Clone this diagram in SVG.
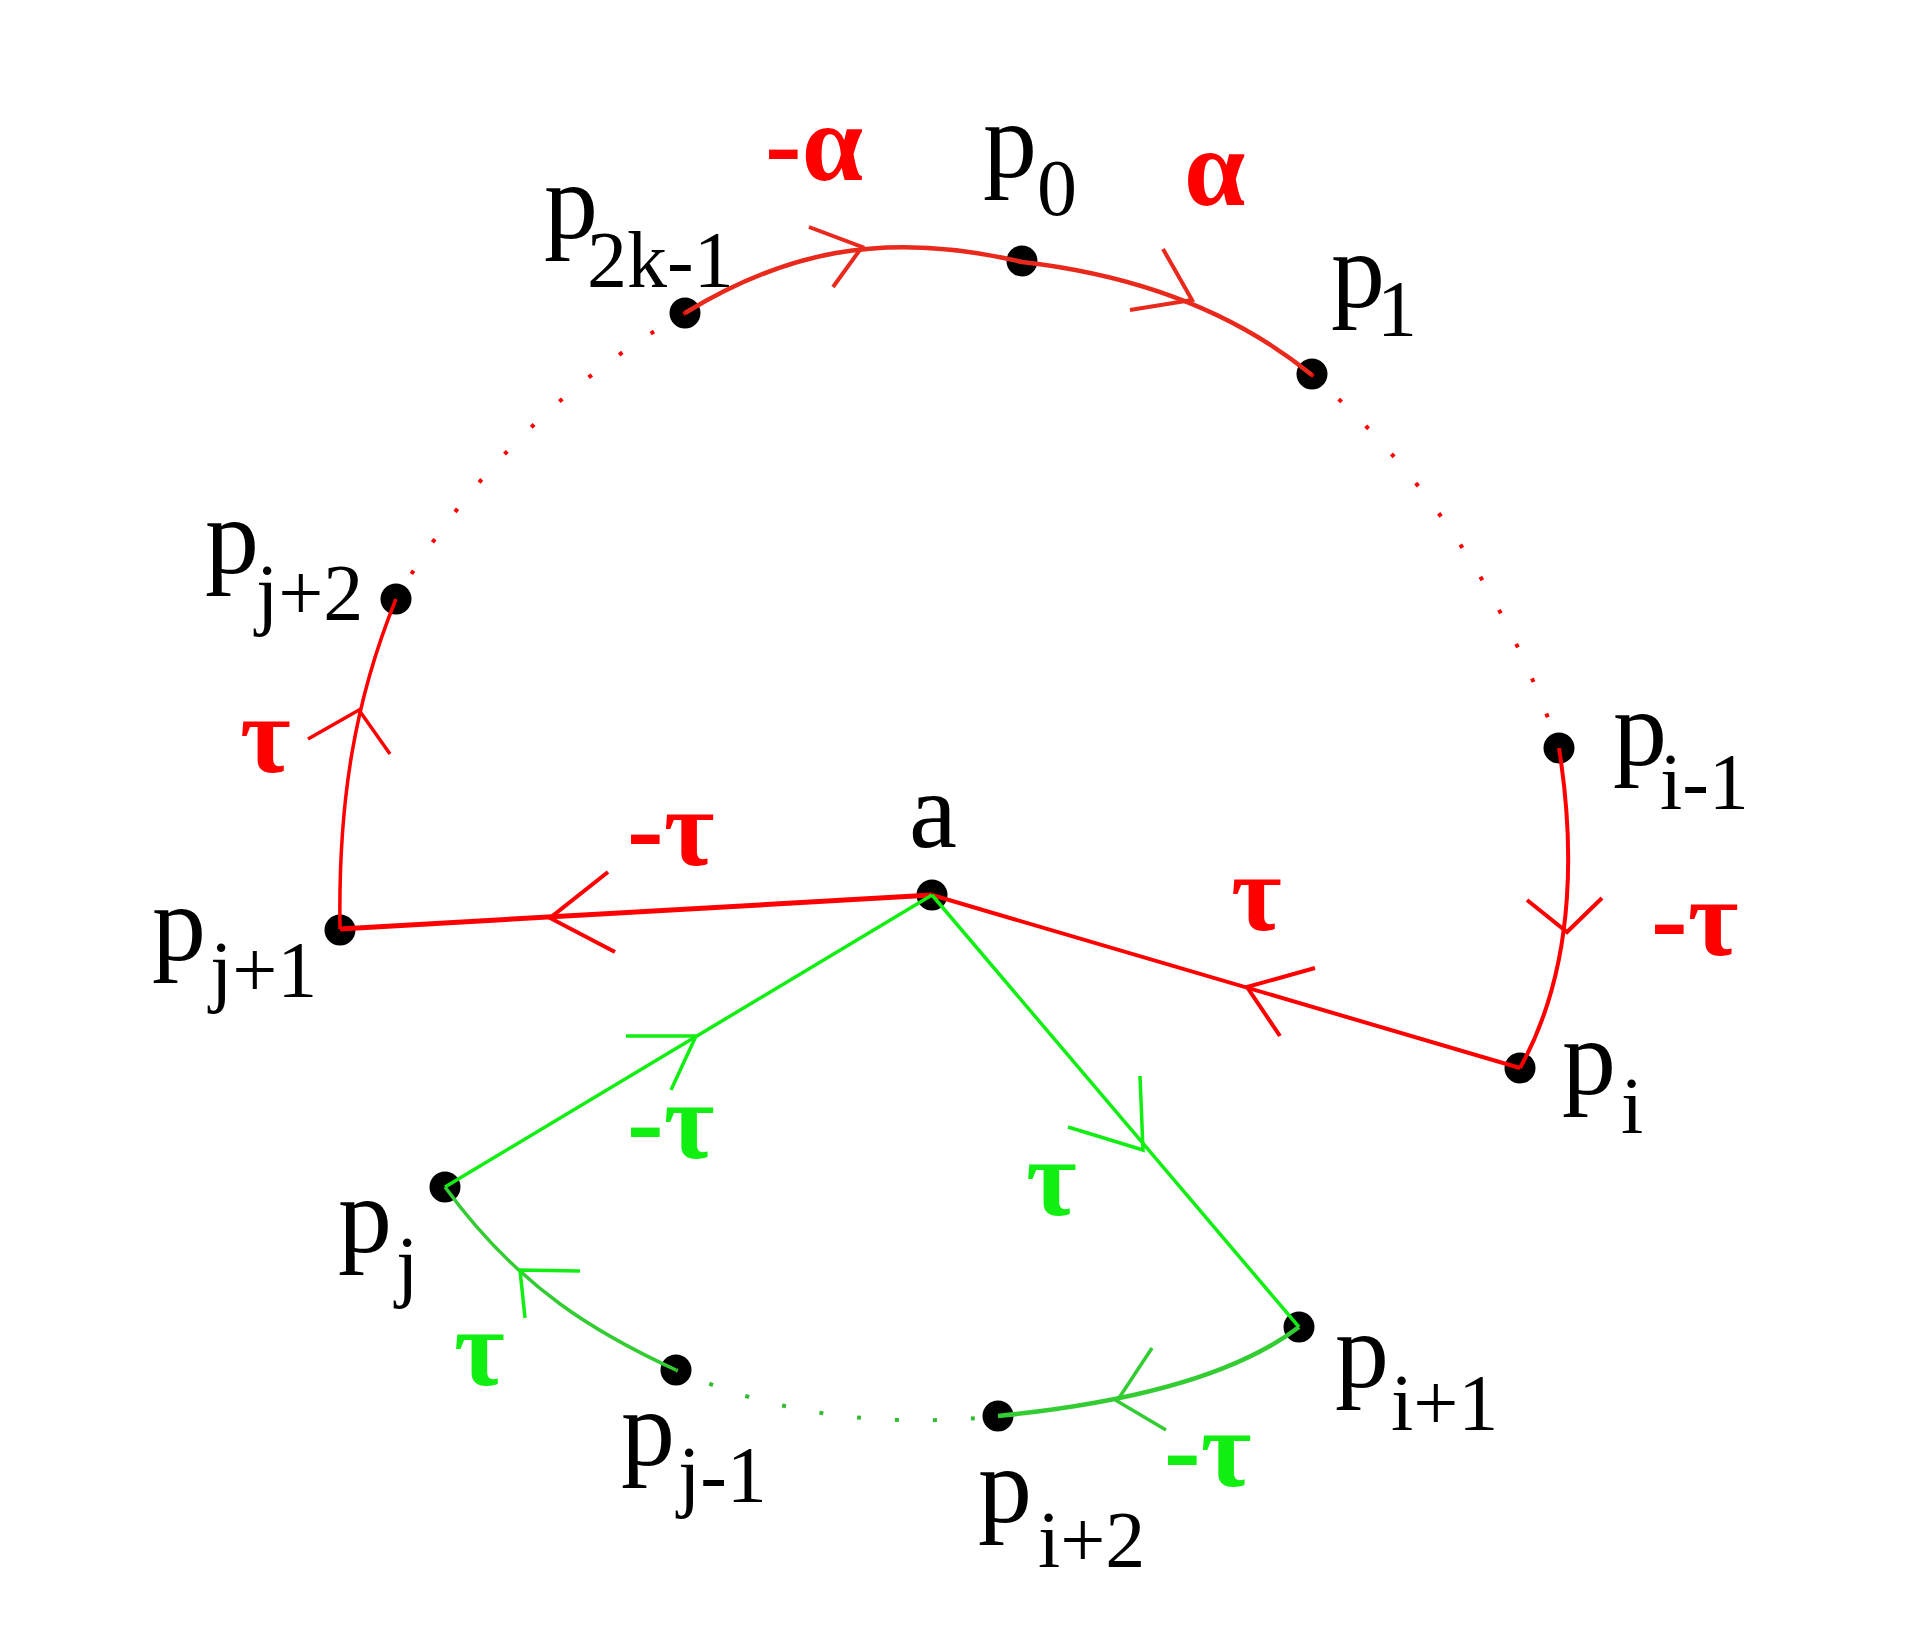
<svg xmlns="http://www.w3.org/2000/svg" width="1917" height="1635" viewBox="0 0 1917 1635">
<style>
.dot{fill:#000}
.lbl{font-family:"Liberation Serif","DejaVu Serif",serif;font-size:108px;fill:#000}
.sub{font-size:80px}
.gk{font-family:"Liberation Serif","DejaVu Serif",serif;font-size:110px;font-weight:bold}
.r{fill:#ff0000}
.g{fill:#11ee11}
.er{fill:none;stroke:#ff0000;stroke-width:4}
.eg{fill:none;stroke:#11ee11;stroke-width:3.5}
.eg2{fill:none;stroke:#33cc33;stroke-width:3.5}
.dr{fill:none;stroke:#ff0000;stroke-width:4;stroke-dasharray:4 34}
.dg{fill:none;stroke:#33bb33;stroke-width:4;stroke-dasharray:4 34}
</style>
<rect width="1917" height="1635" fill="#fff"/>
<g id="node-p0"><circle class="dot" cx="1022" cy="261" r="15.5"/><text class="lbl" x="983" y="177">p<tspan class="sub" x="1037" y="215">0</tspan></text></g>
<g id="node-p1"><circle class="dot" cx="1312" cy="374" r="15.5"/><text class="lbl" x="1331" y="307">p<tspan class="sub" x="1377" y="336">1</tspan></text></g>
<g id="node-p2k-1"><circle class="dot" cx="685" cy="313" r="15.5"/><text class="lbl" x="544" y="238">p<tspan class="sub" x="587" y="287">2k-1</tspan></text></g>
<g id="node-pj2"><circle class="dot" cx="396" cy="599" r="15.5"/><text class="lbl" x="205" y="573">p<tspan class="sub" x="256" y="620">j+2</tspan></text></g>
<g id="node-pi-1"><circle class="dot" cx="1559" cy="748" r="15.5"/><text class="lbl" x="1613" y="765">p<tspan class="sub" x="1660" y="809">i-1</tspan></text></g>
<g id="node-a"><circle class="dot" cx="932" cy="895" r="15.5"/><text class="lbl" x="909" y="847">a</text></g>
<g id="node-pj1"><circle class="dot" cx="340" cy="930" r="15.5"/><text class="lbl" x="152" y="960">p<tspan class="sub" x="210" y="997">j+1</tspan></text></g>
<g id="node-pi"><circle class="dot" cx="1520" cy="1068" r="15.5"/><text class="lbl" x="1562" y="1094">p<tspan class="sub" x="1621" y="1133">i</tspan></text></g>
<g id="node-pj"><circle class="dot" cx="445" cy="1187" r="15.5"/><text class="lbl" x="338" y="1252">p<tspan class="sub" x="396" y="1292">j</tspan></text></g>
<g id="node-pi1"><circle class="dot" cx="1299" cy="1327" r="15.5"/><text class="lbl" x="1335" y="1387">p<tspan class="sub" x="1391" y="1430">i+1</tspan></text></g>
<g id="node-pj-1"><circle class="dot" cx="676" cy="1370" r="15.5"/><text class="lbl" x="621" y="1465">p<tspan class="sub" x="678" y="1502">j-1</tspan></text></g>
<g id="node-pi2"><circle class="dot" cx="998" cy="1416" r="15.5"/><text class="lbl" x="978" y="1522">p<tspan class="sub" x="1038" y="1567">i+2</tspan></text></g>
<g id="connectors">
<path class="er" style="stroke:#e8291c;stroke-width:4.5" d="M685,313 C780,255 880,228 1022,262 C1110,272 1220,300 1312,375"/>
<polyline class="er" style="stroke:#e8291c" points="809,227 862,247 833,287"/>
<polyline class="er" style="stroke:#e8291c" points="1163,249 1192,300 1130,310"/>
<path class="dr" style="stroke-dashoffset:2" d="M1312,375 Q1480,520 1559,748"/>
<path class="dr" style="stroke-dashoffset:2" d="M685,313 Q505,415 396,599"/>
<path class="er" style="stroke-width:3.5" d="M396,599 C355,700 338,800 340,929"/>
<polyline class="er" style="stroke-width:3.5" points="308,739 359,710 390,754"/>
<path class="er" style="stroke-width:5" d="M340,929 L932,895"/>
<polyline class="er" points="608,872 550,918 615,952"/>
<path class="er" d="M932,895 L1520,1068"/>
<polyline class="er" points="1315,968 1247,987 1280,1036"/>
<path class="er" d="M1559,748 C1572,830 1580,960 1520,1068"/>
<polyline class="er" points="1527,900 1567,932 1602,898"/>
<path class="eg" d="M932,895 L445,1187"/>
<polyline class="eg" points="626,1036 696,1036 671,1090"/>
<path class="eg" d="M932,895 L1299,1327"/>
<polyline class="eg" points="1140,1076 1143,1150 1068,1127"/>
<path class="eg2" d="M676,1370 C600,1335 520,1290 445,1187"/>
<polyline class="eg" points="580,1271 520,1270 525,1318"/>
<path class="dg" style="stroke-dashoffset:2" d="M676,1370 Q820,1435 998,1416"/>
<path class="eg2" style="stroke-width:4.5" d="M1299,1327 Q1210,1395 998,1416"/>
<polyline class="eg2" points="1152,1348 1117,1401 1166,1430"/>
</g>
<g id="edge-labels">
<text class="gk r" x="765" y="180">-α</text>
<text class="gk r" x="1184" y="205">α</text>
<text class="gk r" x="240" y="772">τ</text>
<text class="gk r" x="627" y="865">-τ</text>
<text class="gk r" x="1231" y="930">τ</text>
<text class="gk r" x="1651" y="955">-τ</text>
<text class="gk g" x="627" y="1158">-τ</text>
<text class="gk g" x="1026" y="1215">τ</text>
<text class="gk g" x="454" y="1385">τ</text>
<text class="gk g" x="1164" y="1486">-τ</text>
</g>
</svg>
